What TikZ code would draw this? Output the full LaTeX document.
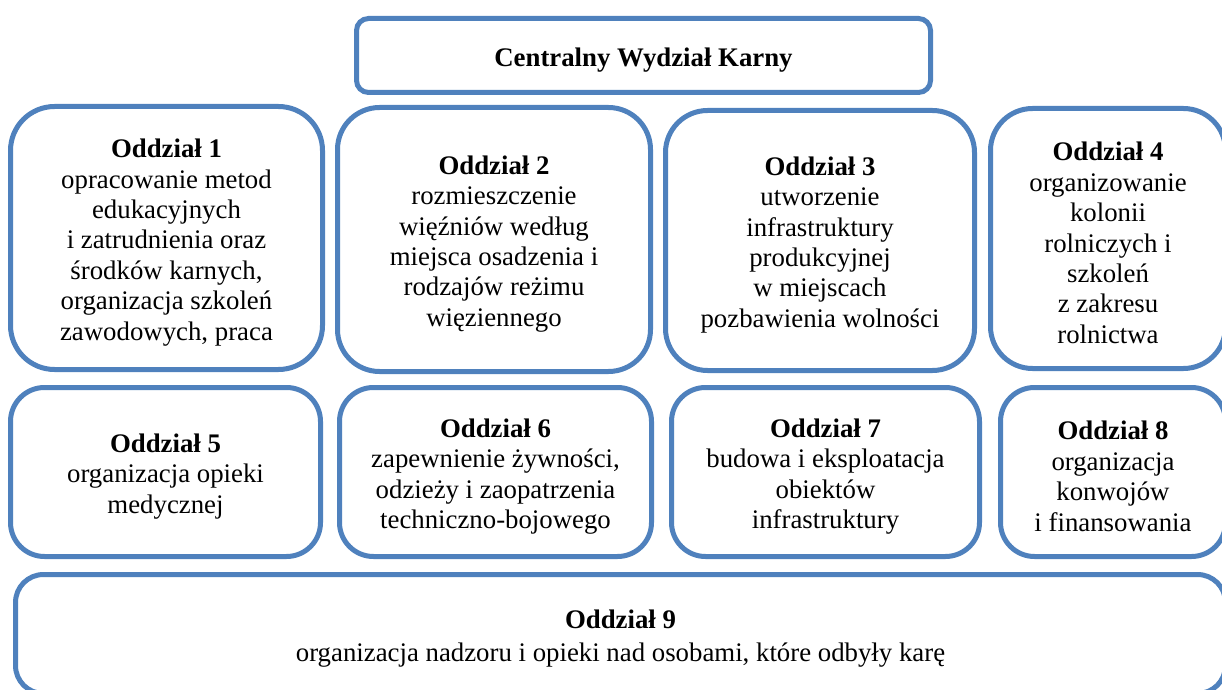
\documentclass[tikz,border=0pt]{standalone}
\usepackage{fontspec}
\setmainfont{Liberation Serif}
\usetikzlibrary{shapes}
\definecolor{ramka}{HTML}{4F81BD}

% bold heading of a box, with a taller first line
\newcommand{\naglowek}[1]{\rule{0pt}{13.7pt}\textbf{#1}}

\tikzset{
  dzial/.style={draw=ramka,line width=2.5pt,rectangle,align=center,fill=white,
    font=\fontsize{13.4}{15.2}\selectfont}
}

\begin{document}
\begin{tikzpicture}[x=0.5pt,y=-0.5pt]
  \useasboundingbox (0,0) rectangle (1222,690);

  \node[dzial,rounded corners=6pt,minimum width=287pt,minimum height=37pt] at (643.5,55.5) (n0-0) {\naglowek{Centralny Wydział Karny}};

  \node[dzial,rounded corners=22pt,minimum width=156pt,minimum height=131.5pt] at (166.5,238) (n1-0) {\naglowek{Oddział 1}\\opracowanie metod\\edukacyjnych\\i zatrudnienia oraz\\środków karnych,\\organizacja szkoleń\\zawodowych, praca};
  \node[dzial,rounded corners=21pt,minimum width=156.5pt,minimum height=132pt] at (494,239.5) (n1-1) {\naglowek{Oddział 2}\\rozmieszczenie\\więźniów według\\miejsca osadzenia i\\rodzajów reżimu\\więziennego};
  \node[dzial,rounded corners=21pt,minimum width=154.5pt,minimum height=130pt] at (820,240.5) (n1-2) {\naglowek{Oddział 3}\\utworzenie\\infrastruktury\\produkcyjnej\\w miejscach\\pozbawienia wolności};
  \node[dzial,rounded corners=21pt,minimum width=117.5pt,minimum height=130pt] at (1108,238.5) (n1-3) {\naglowek{Oddział 4}\\organizowanie\\kolonii\\rolniczych i\\szkoleń\\z zakresu\\rolnictwa};

  \node[dzial,rounded corners=17pt,minimum width=155pt,minimum height=84.5pt] at (165.5,472) (n2-0) {\naglowek{Oddział 5}\\organizacja opieki\\medycznej};
  \node[dzial,rounded corners=17pt,minimum width=156pt,minimum height=84.5pt] at (495.5,472) (n2-1) {\naglowek{Oddział 6}\\zapewnienie żywności,\\odzieży i zaopatrzenia\\techniczno-bojowego};
  \node[dzial,rounded corners=17pt,minimum width=154pt,minimum height=84.5pt] at (825.5,472) (n2-2) {\naglowek{Oddział 7}\\budowa i eksploatacja\\obiektów\\infrastruktury};
  \node[dzial,rounded corners=17pt,minimum width=112.5pt,minimum height=84.5pt] at (1113,472) (n2-3) {\naglowek{Oddział 8}\\organizacja\\konwojów\\i finansowania};

  \node[dzial,font=\fontsize{13.4}{16.5}\selectfont,rounded corners=14pt,minimum width=605pt,minimum height=59.5pt] at (620.5,634) (n3-0) {\naglowek{Oddział 9}\\organizacja nadzoru i opieki nad osobami, które odbyły karę};

\end{tikzpicture}
\end{document}
